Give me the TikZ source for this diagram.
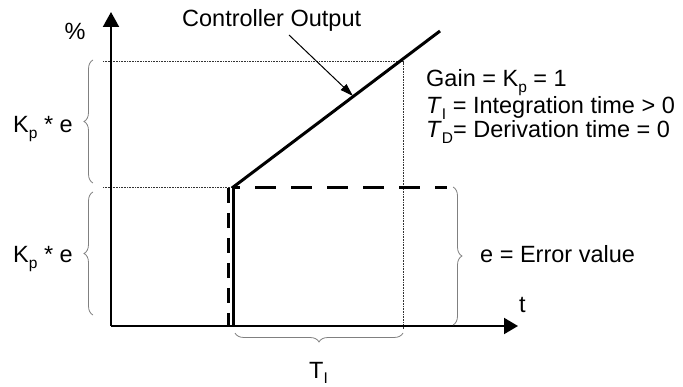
\documentclass[tikz,border=0pt]{standalone}
\usepackage{fontspec}
\setmainfont{Liberation Sans}
\usetikzlibrary{arrows.meta,decorations.pathreplacing}
\newcommand\lowsub[1]{\raisebox{-0.25em}{\fontsize{15.5}{15.5}\selectfont #1}}
\begin{document}
\begin{tikzpicture}[x=1pt,y=-1pt,
  lbl/.style={inner sep=0pt,font=\fontsize{23.5}{24}\selectfont},
  axisline/.style={line width=2pt},
  guide/.style={line width=1pt,black!80,dash pattern=on 1pt off 0.6pt},
  bracegray/.style={gray,line width=0.8pt,decorate,decoration={brace,amplitude=9pt}},
  thickline/.style={line width=3pt},
  dashedh/.style={line width=3pt,dash pattern=on 21pt off 15pt,dash phase=14pt},
  dashedv/.style={line width=3pt,dash pattern=on 15pt off 10pt}]
\useasboundingbox (0,0) rectangle (683,387);
% coordinates
\coordinate (O) at (111,326);
\coordinate (ytip) at (111,12);
\coordinate (xtip) at (518,326);
\coordinate (ul) at (103,62);
\coordinate (ur) at (403,62);
\coordinate (urb) at (403,329);
\coordinate (ll) at (103,188);
\coordinate (s) at (232,188);
\coordinate (e) at (440,31);
\coordinate (vb) at (233,326);
\coordinate (vt) at (233,188);
\coordinate (dvt) at (228,188);
\coordinate (dvb) at (228,326);
\coordinate (dhe) at (447,188);
\coordinate (arS) at (289,35);
\coordinate (arE) at (353,96);
% guides
\draw[guide] (ul) -- (ur) -- (urb);
\draw[guide] (ll) -- (s);
% axes
\draw[axisline,-{Triangle[width=16pt,length=15pt]}] (O) -- (ytip);
\draw[axisline,-{Triangle[width=16pt,length=14pt]}] (O) -- (xtip);
% dashed error step
\draw[dashedv] (dvt) -- (dvb);
\draw[dashedh] (vt) -- (dhe);
% controller output
\draw[thickline] (vb) -- (vt);
\draw[thickline] (s) -- (e);
\draw[line width=1pt,-{Triangle[width=8pt,length=13pt]}] (arS) -- (arE);
% braces
\draw[bracegray] (93,183) -- (93,60);
\draw[bracegray] (93,315) -- (93,192);
\draw[bracegray] (453,187) -- (453,325);
\draw[bracegray] (403,333) -- (235,333);
% labels
\node[lbl,anchor=base] (pct) at (75,40) {\%};
\node[lbl,anchor=base west] (co) at (182,27) {Controller Output};
\node[lbl,anchor=base east] (k1) at (73,133) {K\lowsub{p} * e};
\node[lbl,anchor=base east] (k2) at (73,263) {K\lowsub{p} * e};
\node[lbl,anchor=base west,align=left] (g1) at (426,138) {Gain = K\lowsub{p} = 1\\[0pt]
\textit{T}\lowsub{I} = Integration time > 0\\[0pt]
\textit{T}\lowsub{D}= Derivation time = 0};
\node[lbl,anchor=base west] (err) at (480,263) {e = Error value};
\node[lbl,anchor=base west] (t) at (519,313) {t};
\node[lbl,anchor=base west] (ti) at (309,378) {T\lowsub{I}};
\end{tikzpicture}
\end{document}
